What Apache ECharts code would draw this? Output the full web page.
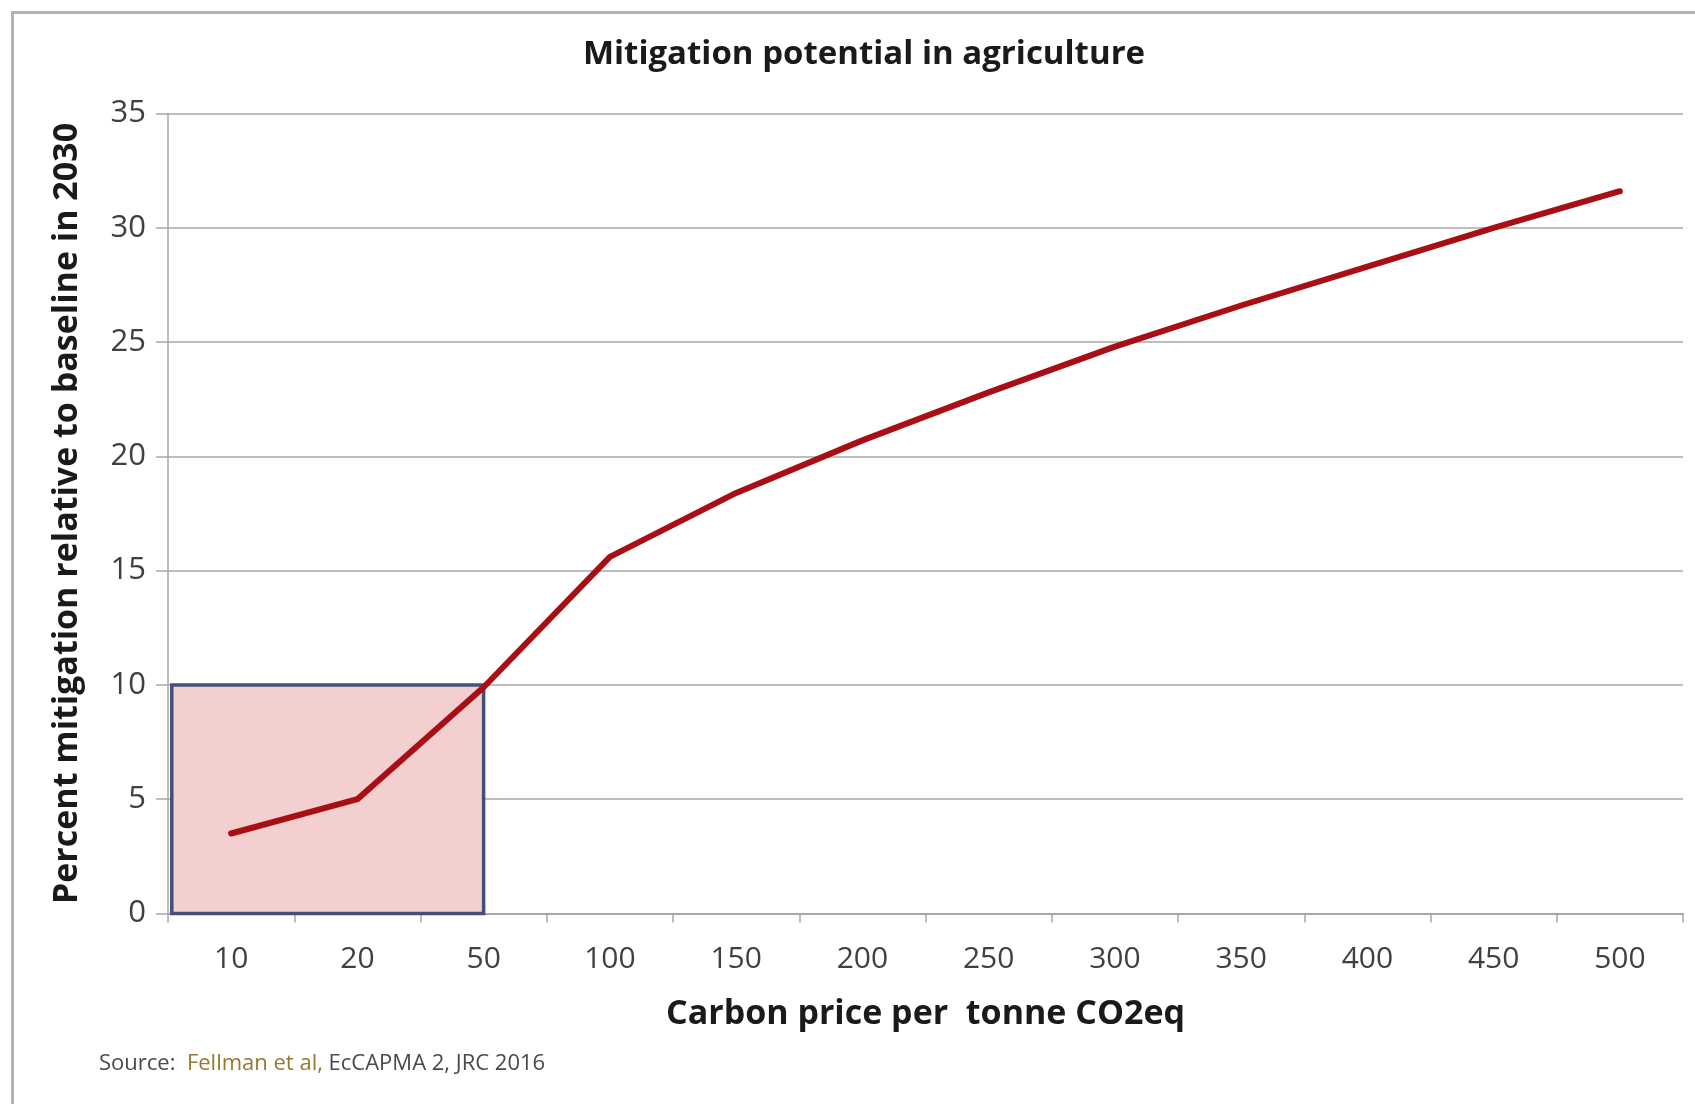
<!DOCTYPE html>
<html>
<head>
<meta charset="utf-8">
<style>
  html, body { margin: 0; padding: 0; background: #ffffff; }
  #chart { width: 1695px; height: 1104px; }
</style>
<script src="https://cdn.jsdelivr.net/npm/echarts@6/dist/echarts.min.js"></script>
</head>
<body>
<div id="chart"></div>
<script>
// Carbon price categories (per tonne CO2eq)
const prices = ['10', '20', '50', '100', '150', '200', '250', '300', '350', '400', '450', '500'];
// Percent mitigation relative to the 2030 baseline
const mitigation = [3.5, 5.0, 9.9, 15.6, 18.4, 20.7, 22.8, 24.8, 26.6, 28.3, 30.0, 31.6];
// Highlighted low-price zone: from the start of the axis up to the "50" category, 0–10 %
const zoneX = [-0.47, 2];
const zoneY = [0, 10];

const font = '"Open Sans", "Noto Sans", sans-serif';
const chart = echarts.init(document.getElementById('chart'), null, { renderer: 'canvas' });

chart.setOption({
  backgroundColor: '#ffffff',
  animation: false,
  title: {
    text: 'Mitigation potential in agriculture',
    left: 859, top: 33, textAlign: 'center',
    textStyle: { fontFamily: font, fontSize: 33, fontWeight: 'bold', color: '#1a1a1a' }
  },
  graphic: [
    {
      type: 'rect', left: 10, top: 10, z: -10, silent: true,
      shape: { width: 1700, height: 1110 },
      style: { fill: null, stroke: '#b4b4b4', lineWidth: 3 }
    },
    {
      type: 'text', left: 99, top: 1053,
      style: {
        text: '{a|Source:  }{b|Fellman et al,}{a| EcCAPMA 2, JRC 2016}',
        rich: {
          a: { fontFamily: font, fontSize: 22, fill: '#4a4a4a' },
          b: { fontFamily: font, fontSize: 22, fill: '#98772e' }
        }
      }
    }
  ],
  grid: { left: 168, right: 12, top: 113.5, bottom: 190.5, containLabel: false },
  xAxis: [
    {
      type: 'category',
      data: prices,
      boundaryGap: true,
      name: 'Carbon price per  tonne CO2eq',
      nameLocation: 'middle',
      nameGap: 84,
      nameTextStyle: { fontFamily: font, fontSize: 34, fontWeight: 'bold', color: '#1a1a1a' },
      axisLine: { lineStyle: { color: '#a8a8a8', width: 2 } },
      axisTick: { show: true, alignWithLabel: false, length: 9, lineStyle: { color: '#a8a8a8', width: 1.5 } },
      axisLabel: { margin: 31, fontFamily: font, fontSize: 30, color: '#404040' },
      splitLine: { show: false }
    },
    {
      type: 'value', min: -0.5, max: 11.5, show: false
    }
  ],
  yAxis: {
    type: 'value',
    min: 0, max: 35, interval: 5,
    name: 'Percent mitigation relative to baseline in 2030',
    nameLocation: 'middle',
    nameGap: 84,
    nameTextStyle: { fontFamily: font, fontSize: 34, fontWeight: 'bold', color: '#1a1a1a' },
    axisLine: { show: true, onZero: false, lineStyle: { color: '#a8a8a8', width: 1.5 } },
    axisTick: { show: true, length: 12, lineStyle: { color: '#a8a8a8', width: 1.5 } },
    axisLabel: { margin: 22, fontFamily: font, fontSize: 31, color: '#404040' },
    splitLine: { show: true, lineStyle: { color: '#a8a8a8', width: 1.5 } }
  },
  series: [
    {
      type: 'line',
      xAxisIndex: 1,
      data: [],
      silent: true,
      z: 1,
      markArea: {
        silent: true,
        itemStyle: { color: '#f3cfd0', borderColor: '#44507a', borderWidth: 3.5 },
        data: [[{ coord: [zoneX[0], zoneY[0]] }, { coord: [zoneX[1], zoneY[1]] }]]
      }
    },
    {
      type: 'line',
      data: mitigation,
      z: 5,
      symbol: 'none',
      lineStyle: { color: '#a80f14', width: 6, cap: 'round', join: 'round' }
    }
  ]
});
</script>
</body>
</html>
